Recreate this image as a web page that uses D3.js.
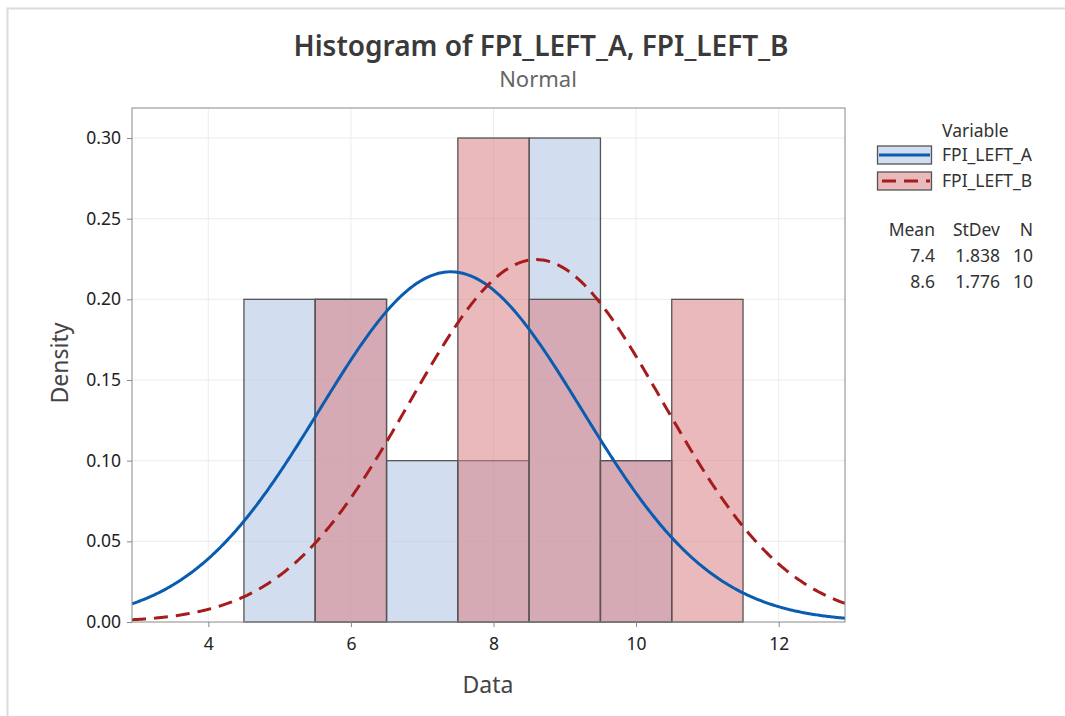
<!DOCTYPE html>
<html lang="en">
<head>
  <meta charset="UTF-8">
  <title>Histogram of FPI_LEFT_A, FPI_LEFT_B</title>
  <style>
    body { margin: 0; background: #fff; }
    svg { display: block; }
    text { font-family: "Noto Sans", "Open Sans", sans-serif; fill: #333; }
  </style>
</head>
<body>
  <div id="app"></div>

  <script src="https://cdn.jsdelivr.net/npm/d3@7"></script>
  <script>
    // data
    const binCenters = [5, 6, 7, 8, 9, 10, 11]
    const densityA = [0.2, 0.2, 0.1, 0.1, 0.3, 0.1, 0]
    const densityB = [0, 0.2, 0, 0.3, 0.2, 0.1, 0.2]
    const seriesNames = ['FPI_LEFT_A', 'FPI_LEFT_B']
    const means = [7.4, 8.6]
    const stdevs = [1.838, 1.776]
    const counts = [10, 10]
    const xTicks = [4, 6, 8, 10, 12]
    const yTicks = [0, 0.05, 0.10, 0.15, 0.20, 0.25, 0.30]

    const W = 1065, H = 716
    const plot = { left: 132, right: 845, top: 108, bottom: 622 }

    const svg = d3.select('#app').append('svg')
      .attr('width', W)
      .attr('height', H)

    // outer frame (only top and left edges show)
    svg.append('path')
      .attr('d', `M7.5,${H} V8.5 H${W}`)
      .attr('fill', 'none')
      .attr('stroke', '#dcdcdc')
      .attr('stroke-width', 2)

    const x = d3.scaleLinear().domain([2.93, 12.93]).range([plot.left, plot.right])
    const y = d3.scaleLinear().domain([0, 0.3186]).range([plot.bottom, plot.top])

    // grid
    const grid = svg.append('g')
    grid.selectAll('.gx').data(xTicks).enter().append('line')
      .attr('x1', d => x(d)).attr('x2', d => x(d))
      .attr('y1', plot.top).attr('y2', plot.bottom)
      .attr('stroke', '#ececec')
    grid.selectAll('.gy').data(yTicks.slice(1)).enter().append('line')
      .attr('x1', plot.left).attr('x2', plot.right)
      .attr('y1', d => y(d)).attr('y2', d => y(d))
      .attr('stroke', '#ececec')

    const fills = ['rgb(180,200,228)', 'rgb(215,128,131)']
    const opac = [0.6, 0.55]
    const lineColors = ['#0a5cb0', '#a61c1c']

    // bars
    ;[densityA, densityB].forEach((dens, k) => {
      svg.append('g').selectAll('rect')
        .data(binCenters.map((c, i) => ({ c, v: dens[i] })).filter(d => d.v > 0))
        .enter().append('rect')
        .attr('x', d => x(d.c - 0.5))
        .attr('width', d => x(d.c + 0.5) - x(d.c - 0.5))
        .attr('y', d => y(d.v))
        .attr('height', d => y(0) - y(d.v))
        .attr('fill', fills[k])
        .attr('fill-opacity', opac[k])
        .attr('stroke', '#555')
        .attr('stroke-width', 1.3)
    })

    // fitted normal curves
    svg.append('clipPath').attr('id', 'clip')
      .append('rect')
      .attr('x', plot.left).attr('y', plot.top)
      .attr('width', plot.right - plot.left).attr('height', plot.bottom - plot.top)

    const xs = d3.range(x.domain()[0], x.domain()[1] + 0.001, 0.02)
    const line = d3.line().x(d => x(d[0])).y(d => y(d[1]))
    means.forEach((m, k) => {
      const s = stdevs[k]
      const pts = xs.map(v => [v, Math.exp(-0.5 * ((v - m) / s) ** 2) / (s * Math.sqrt(2 * Math.PI))])
      svg.append('path')
        .attr('clip-path', 'url(#clip)')
        .attr('d', line(pts))
        .attr('fill', 'none')
        .attr('stroke', lineColors[k])
        .attr('stroke-width', 3)
        .attr('stroke-dasharray', k === 1 ? '14,8' : null)
    })

    // frame
    svg.append('rect')
      .attr('x', plot.left).attr('y', plot.top)
      .attr('width', plot.right - plot.left).attr('height', plot.bottom - plot.top)
      .attr('fill', 'none')
      .attr('stroke', '#888')

    // axes
    const xAxis = svg.append('g')
      .attr('transform', `translate(0,${plot.bottom})`)
      .call(d3.axisBottom(x).tickValues(xTicks).tickSize(5).tickPadding(11))
    const yAxis = svg.append('g')
      .attr('transform', `translate(${plot.left},0)`)
      .call(d3.axisLeft(y).tickValues(yTicks).tickFormat(d3.format('.2f')).tickSize(5).tickPadding(6))
    ;[xAxis, yAxis].forEach(a => {
      a.select('.domain').remove()
      a.selectAll('line').attr('stroke', '#888')
      a.selectAll('text').attr('font-size', 17.5).style('fill', '#222')
        .attr('font-family', '"Noto Sans", "Open Sans", sans-serif')
    })

    // titles
    svg.append('text')
      .attr('x', 541).attr('y', 56)
      .attr('text-anchor', 'middle')
      .attr('font-size', 28).attr('font-weight', 600)
      .style('fill', '#3a3a3a')
      .text('Histogram of FPI_LEFT_A, FPI_LEFT_B')
    svg.append('text')
      .attr('x', 538).attr('y', 87)
      .attr('text-anchor', 'middle')
      .attr('font-size', 22)
      .style('fill', '#666')
      .text('Normal')
    svg.append('text')
      .attr('x', 488).attr('y', 693)
      .attr('text-anchor', 'middle')
      .attr('font-size', 23)
      .style('fill', '#444')
      .text('Data')
    svg.append('text')
      .attr('transform', 'translate(68,363) rotate(-90)')
      .attr('text-anchor', 'middle')
      .attr('font-size', 23)
      .style('fill', '#444')
      .text('Density')

    // legend
    const leg = svg.append('g')
    leg.append('text').attr('x', 942).attr('y', 137).attr('font-size', 17.5).text('Variable')
    seriesNames.forEach((name, k) => {
      const yy = 146 + k * 26
      leg.append('rect')
        .attr('x', 877.5).attr('y', yy).attr('width', 54).attr('height', 18)
        .attr('fill', fills[k]).attr('fill-opacity', opac[k])
        .attr('stroke', '#555').attr('stroke-width', 1.3)
      leg.append('line')
        .attr('x1', 879).attr('x2', 930).attr('y1', yy + 9).attr('y2', yy + 9)
        .attr('stroke', lineColors[k]).attr('stroke-width', 3)
        .attr('stroke-dasharray', k === 1 ? '14,8' : null)
        .attr('stroke-dashoffset', k === 1 ? -3 : 0)
      leg.append('text').attr('x', 942).attr('y', yy + 15).attr('font-size', 17.5).text(name)
    })

    const cols = [935, 1000, 1033]
    const headers = ['Mean', 'StDev', 'N']
    headers.forEach((h, i) => {
      leg.append('text').attr('x', cols[i]).attr('y', 236)
        .attr('text-anchor', 'end').attr('font-size', 17.5).text(h)
    })
    means.forEach((m, k) => {
      const row = [d3.format('.1f')(m), d3.format('.3f')(stdevs[k]), counts[k]]
      row.forEach((v, i) => {
        leg.append('text').attr('x', cols[i]).attr('y', 262 + k * 26)
          .attr('text-anchor', 'end').attr('font-size', 17.5).text(v)
      })
    })
  </script>
</body>
</html>
